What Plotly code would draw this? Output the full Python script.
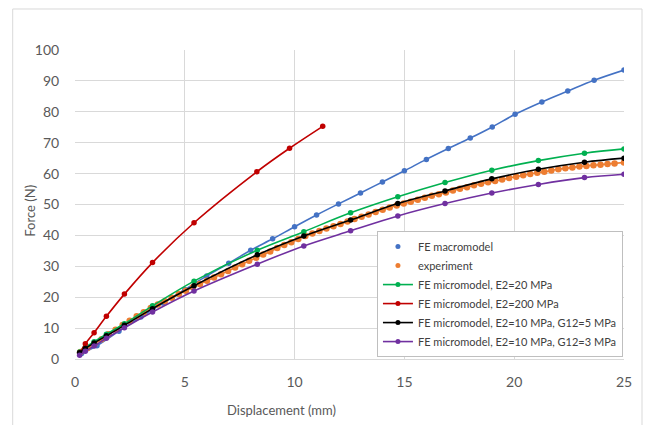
import plotly.graph_objects as go

# ---- data ----
macro_x = [0.3, 1.0, 2.0, 3.0, 4.0, 5.0, 6.0, 7.0, 8.0, 9.0, 10.0, 11.0, 12.0, 13.0, 14.0,
           15.0, 16.0, 17.0, 18.0, 19.0, 20.04, 21.26, 22.44, 23.64, 25.0]
macro_y = [1.8, 4.3, 9.0, 13.6, 18.1, 22.5, 26.9, 31.0, 35.2, 38.9, 42.8, 46.6, 50.2, 53.7, 57.3,
           60.9, 64.6, 68.1, 71.5, 75.1, 79.2, 83.2, 86.7, 90.2, 93.5]

exp_x = [0.25, 0.57, 0.89, 1.21, 1.53, 1.85, 2.17, 2.49, 2.81, 3.13, 3.45, 3.77, 4.09, 4.41, 4.73,
         5.05, 5.37, 5.69, 6.01, 6.33, 6.65, 6.97, 7.29, 7.61, 7.93, 8.25, 8.57, 8.89, 9.21, 9.53,
         9.85, 10.17, 10.49, 10.81, 11.13, 11.45, 11.77, 12.09, 12.41, 12.73, 13.05, 13.37, 13.69,
         14.01, 14.33, 14.65, 14.97, 15.29, 15.61, 15.93, 16.25, 16.57, 16.89, 17.21, 17.53, 17.85,
         18.17, 18.49, 18.81, 19.13, 19.45, 19.77, 20.09, 20.41, 20.73, 21.05, 21.37, 21.69, 22.01,
         22.33, 22.65, 22.97, 23.29, 23.61, 23.93, 24.25, 24.57, 25.0]
exp_y = [2.3, 3.6, 5.0, 6.4, 8.0, 9.5, 11.0, 12.4, 13.8, 15.1, 16.5, 17.6, 18.7, 19.8, 21.0,
         22.1, 23.2, 24.3, 25.3, 26.4, 27.4, 28.5, 29.6, 30.7, 31.8, 32.8, 33.8, 34.8, 35.9, 36.9,
         37.8, 38.8, 39.8, 40.6, 41.4, 42.2, 43.0, 43.7, 44.5, 45.3, 46.0, 46.8, 47.6,
         48.3, 49.0, 49.7, 50.3, 50.9, 51.5, 52.2, 52.8, 53.3, 53.9, 54.5, 55.1, 55.6,
         56.2, 56.7, 57.2, 57.6, 58.1, 58.6, 59.0, 59.5, 59.9, 60.3, 60.6, 61.0, 61.4,
         61.7, 62.0, 62.3, 62.5, 62.7, 62.9, 63.1, 63.3, 63.6]

micro_x = [0.21, 0.47, 0.87, 1.43, 2.25, 3.53, 5.42, 8.3, 10.42, 12.55, 14.7, 16.85, 18.98, 21.1, 23.2, 25.0]
e20_y = [2.3, 3.8, 5.6, 8.0, 11.4, 17.2, 25.2, 35.2, 41.2, 47.3, 52.5, 57.1, 61.1, 64.2, 66.6, 68.0]
g5_y = [2.0, 3.4, 5.2, 7.5, 10.9, 16.3, 23.7, 33.7, 39.8, 45.0, 50.3, 54.4, 58.3, 61.4, 63.7, 65.0]
g3_y = [1.2, 2.5, 4.2, 6.7, 10.1, 15.2, 22.0, 30.7, 36.6, 41.5, 46.3, 50.3, 53.7, 56.5, 58.7, 59.8]

e200_x = [0.21, 0.47, 0.87, 1.43, 2.25, 3.53, 5.42, 8.28, 9.77, 11.28]
e200_y = [2.0, 4.9, 8.5, 13.8, 21.0, 31.2, 44.1, 60.6, 68.2, 75.3]

names = ["FE macromodel", "experiment", "FE micromodel, E2=20 MPa", "FE micromodel, E2=200 MPa",
         "FE micromodel, E2=10 MPa, G12=5 MPa", "FE micromodel, E2=10 MPa, G12=3 MPa"]
colors = ["#4472C4", "#ED7D31", "#00B050", "#C00000", "#000000", "#7030A0"]
x_title = "Displacement (mm)"
y_title = "Force (N)"

fig = go.Figure()

# series drawn with lines but legend shows marker only
for xs, ys, nm, c, ms in [(macro_x, macro_y, names[0], colors[0], 5.5),
                          (exp_x, exp_y, names[1], colors[1], 6.5)]:
    fig.add_trace(go.Scatter(x=xs, y=ys, mode="lines+markers", line=dict(color=c, width=1.6, shape="spline"),
                             marker=dict(color=c, size=ms), showlegend=False, name=nm))

series = [(micro_x, e20_y, names[2], colors[2]),
          (e200_x, e200_y, names[3], colors[3]),
          (micro_x, g5_y, names[4], colors[4]),
          (micro_x, g3_y, names[5], colors[5])]
for xs, ys, nm, c in series:
    fig.add_trace(go.Scatter(x=xs, y=ys, mode="lines+markers", line=dict(color=c, width=1.6, shape="spline"),
                             marker=dict(color=c, size=5.5), name=nm, showlegend=False))

# legend entries (order as in reference)
fig.add_trace(go.Scatter(x=[None], y=[None], mode="markers", marker=dict(color=colors[0], size=5), name=names[0]))
fig.add_trace(go.Scatter(x=[None], y=[None], mode="markers", marker=dict(color=colors[1], size=5), name=names[1]))
for i in range(2, 6):
    fig.add_trace(go.Scatter(x=[None], y=[None], mode="lines+markers",
                             line=dict(color=colors[i], width=1.6), marker=dict(color=colors[i], size=5), name=names[i]))

font_family = "Lato, 'Open Sans', sans-serif"
grid = "#D9D9D9"
fig.update_layout(
    width=647, height=425,
    margin=dict(l=75, r=23, t=50, b=66, autoexpand=False),
    paper_bgcolor="white", plot_bgcolor="white",
    font=dict(family=font_family, color="#595959", size=13),
    legend=dict(x=0.55, y=0.414, xanchor="left", yanchor="top",
                bordercolor="#BFBFBF", borderwidth=1, bgcolor="white",
                font=dict(size=11, color="#404040"), itemwidth=30, tracegroupgap=0),
    xaxis=dict(range=[0, 25], tickvals=[0, 5, 10, 15, 20, 25], showgrid=True, gridcolor=grid,
               zeroline=False, showline=True, linecolor=grid, linewidth=1,
               ticks="outside", ticklen=10, tickcolor="rgba(0,0,0,0)",
               tickfont=dict(size=14, color="#595959")),
    yaxis=dict(range=[0, 100], tickvals=list(range(0, 101, 10)), showgrid=True, gridcolor=grid,
               zeroline=False, showline=False,
               ticks="outside", ticklen=12, tickcolor="rgba(0,0,0,0)",
               tickfont=dict(size=14, color="#595959")),
    annotations=[
        dict(text=x_title, xref="paper", yref="paper", x=0.377, y=-0.165, xanchor="center", yanchor="middle",
             showarrow=False, font=dict(size=13, color="#595959")),
        dict(text=y_title, xref="paper", yref="paper", x=-0.082, y=0.48, xanchor="center", yanchor="middle",
             textangle=-90, showarrow=False, font=dict(size=13, color="#595959")),
    ],
    shapes=[dict(type="rect", xref="paper", yref="paper", x0=-0.1135, x1=1.0328, y0=-0.25, y1=1.1327,
                 line=dict(color="#D9D9D9", width=1), fillcolor="rgba(0,0,0,0)", layer="below")],
)

fig.write_html("out.html")
